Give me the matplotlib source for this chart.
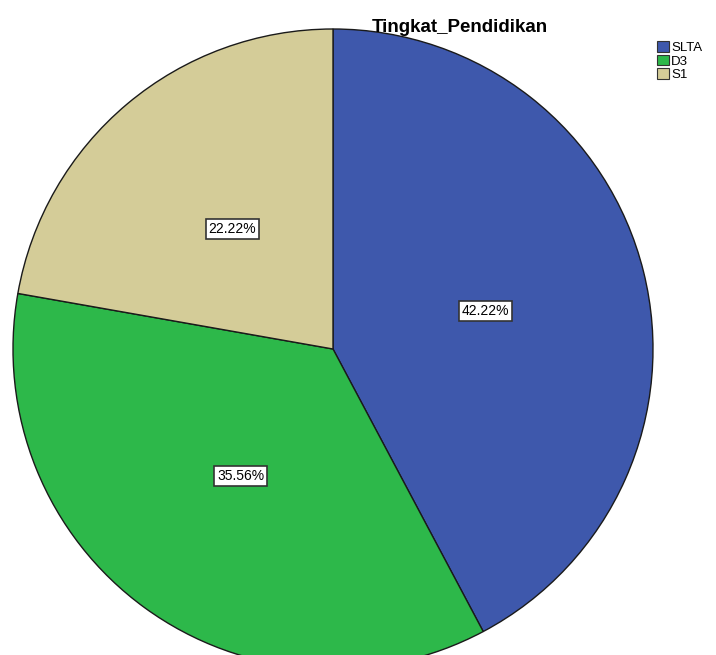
import matplotlib.pyplot as plt
from matplotlib.patches import Patch

# data
categories = ['SLTA', 'D3', 'S1']
counts = [19, 16, 10]
colors = ['#3E58AC', '#2DB84A', '#D4CC98']

plt.rcParams['font.family'] = ['Liberation Sans', 'DejaVu Sans']

fig = plt.figure(figsize=(7.16, 6.55), dpi=100)
ax = fig.add_axes([0, 0, 1, 1])

wedges, texts, autotexts = ax.pie(
    counts, colors=colors, startangle=90, counterclock=False,
    center=(333, 306), radius=320, autopct='%1.2f%%', pctdistance=0.49,
    wedgeprops=dict(edgecolor='#1a1a1a', linewidth=1.0),
    textprops=dict(fontsize=10, color='black'), frame=True)
ax.set_xlim(0, 716)
ax.set_ylim(0, 655)
ax.set_aspect('equal')
ax.axis('off')

for t in autotexts:
    t.set_bbox(dict(facecolor='white', edgecolor='#333333', boxstyle='square,pad=0.2', linewidth=1.2))

fig.text(0.642, 0.958, 'Tingkat_Pendidikan', ha='center', va='center',
         fontsize=13.5, fontweight='bold')

handles = [Patch(facecolor=c, edgecolor='#333333', linewidth=0.8) for c in colors]
leg = fig.legend(handles, categories, loc='upper left', bbox_to_anchor=(0.918, 0.937),
                 frameon=False, fontsize=9.5, handlelength=0.85, handleheight=0.85,
                 handletextpad=0.2, labelspacing=0.05, borderpad=0, borderaxespad=0)

fig.savefig('out.png', dpi=100)
